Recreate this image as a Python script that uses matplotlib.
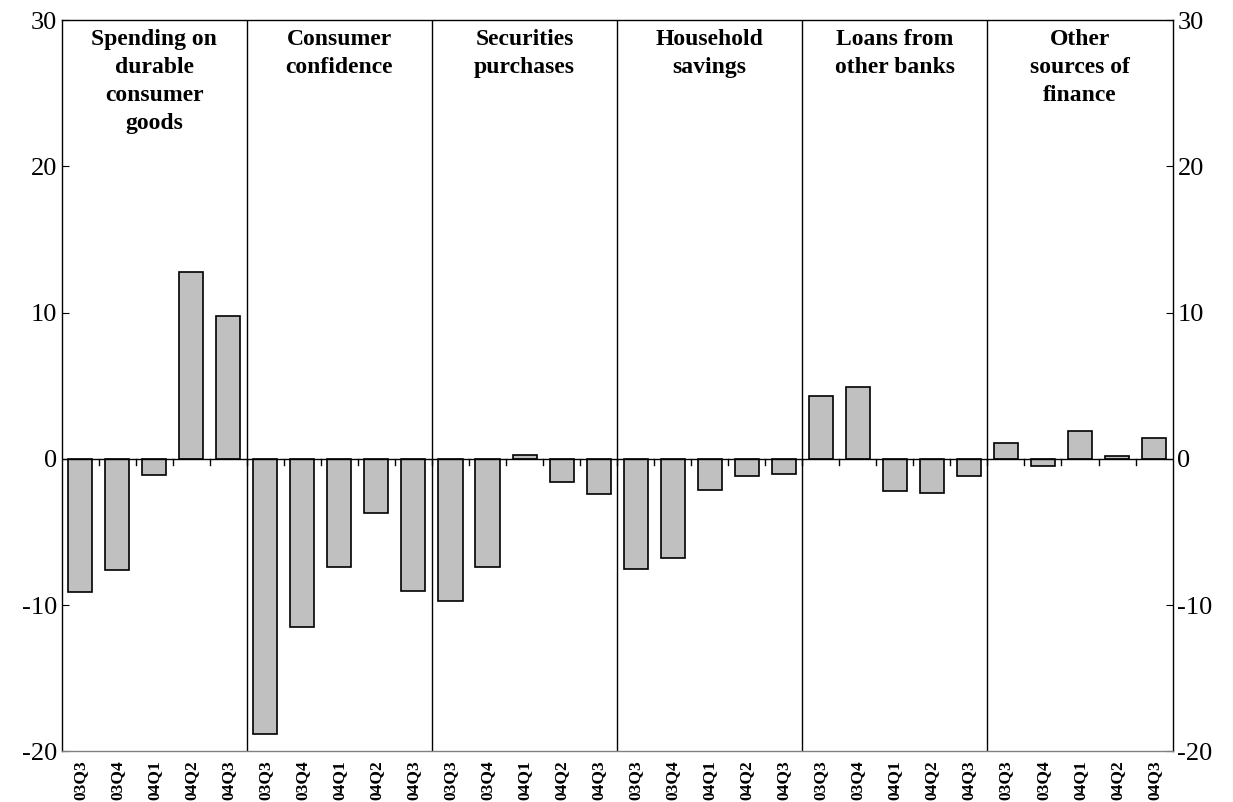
import matplotlib.pyplot as plt
import numpy as np

plt.rcParams['font.family'] = ['Liberation Serif', 'DejaVu Serif']
plt.rcParams['axes.unicode_minus'] = False

groups = ["Spending on\ndurable\nconsumer\ngoods", "Consumer\nconfidence", "Securities\npurchases",
          "Household\nsavings", "Loans from\nother banks", "Other\nsources of\nfinance"]
quarters = ["03Q3", "03Q4", "04Q1", "04Q2", "04Q3"]
values = [
    [-9.1, -7.6, -1.1, 12.8, 9.8],
    [-18.8, -11.5, -7.4, -3.7, -9.0],
    [-9.7, -7.4, 0.3, -1.6, -2.4],
    [-7.5, -6.8, -2.1, -1.2, -1.0],
    [4.3, 4.9, -2.2, -2.3, -1.2],
    [1.1, -0.5, 1.9, 0.2, 1.4],
]

vals = np.concatenate(values)
labels = quarters * len(groups)
x = np.arange(len(vals))

fig, ax = plt.subplots(figsize=(12.33, 8.02), dpi=100)
fig.subplots_adjust(left=0.05, right=0.951, top=0.975, bottom=0.063)
ax.bar(x, vals, width=0.65, color="#c0c0c0", edgecolor="black", linewidth=1.2, zorder=3)
ax.axhline(0, color="black", linewidth=1, zorder=4)
for i in range(len(groups)):
    if i > 0:
        ax.axvline(i * 5 - 0.5, color="black", linewidth=1)
    ax.text(i * 5 + 2, 29.4, groups[i], ha="center", va="top", fontsize=17,
            fontweight="bold", linespacing=1.45)

# small ticks on the zero line
for xt in np.arange(0.5, len(vals) - 1, 1):
    ax.plot([xt, xt], [0, -0.4], color="black", linewidth=1)

ax.set_xlim(-0.5, len(vals) - 0.5)
ax.set_ylim(-20, 30)
ax.set_yticks([-20, -10, 0, 10, 20, 30])
ax.tick_params(axis="y", direction="in", labelsize=19, right=True, labelright=True, length=5)
ax.set_xticks(x)
ax.set_xticklabels(labels, rotation=90, fontsize=12.5, fontweight="bold")
ax.tick_params(axis="x", length=0, pad=6)
for s in ax.spines.values():
    s.set_linewidth(1)
ax.spines["bottom"].set_color("#808080")

fig.savefig("out.png")
